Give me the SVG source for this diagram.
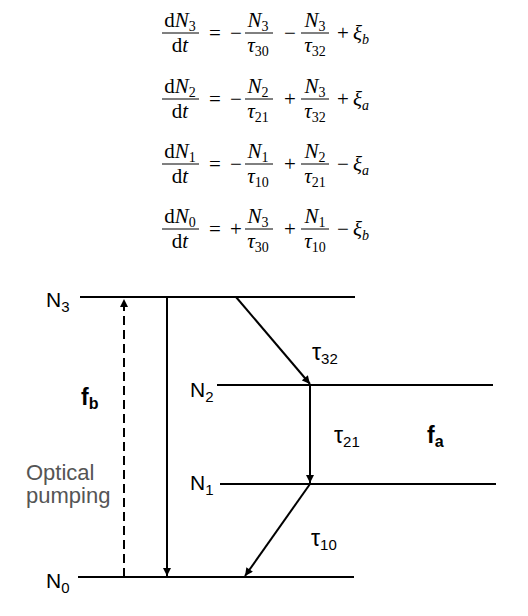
<svg xmlns="http://www.w3.org/2000/svg" width="528" height="616" viewBox="0 0 528 616">
<style>
.m{font-family:"Liberation Serif","DejaVu Serif",serif;font-size:21px;fill:#000}
.mi{font-style:italic}
.s{font-size:14px}
.bar{stroke:#000;stroke-width:1}
.lvl{stroke:#000;stroke-width:2.2;fill:none}
.arr{stroke:#000;stroke-width:2;fill:none}
.lb{font-family:"Liberation Sans",Arial,sans-serif;font-size:21px;fill:#000}
.ls{font-size:15px}
.tl{font-size:23px}
.fb{font-weight:bold;font-size:23px}
.op{font-family:"Liberation Sans",Arial,sans-serif;font-size:22px;fill:#555}
</style>
<defs>
<marker id="ah" viewBox="0 0 10 10" refX="10" refY="5" markerWidth="9" markerHeight="8" markerUnits="userSpaceOnUse" orient="auto">
<path d="M0,0 L10,5 L0,10 z" fill="#000"/>
</marker>
</defs>
<g id="equations">
<g id="eq1" transform="translate(0,0)">
<line class="bar" x1="162" y1="33" x2="199" y2="33"/>
<text class="m" x="180" y="27" text-anchor="middle">d<tspan class="mi">N</tspan><tspan class="s" dy="4">3</tspan></text>
<text class="m" x="180" y="52" text-anchor="middle">d<tspan class="mi">t</tspan></text>
<text class="m" x="215" y="40" text-anchor="middle">=</text>
<text class="m" x="236" y="40" text-anchor="middle">−</text>
<line class="bar" x1="245" y1="33" x2="273" y2="33"/>
<text class="m" x="258" y="27" text-anchor="middle"><tspan class="mi">N</tspan><tspan class="s" dy="4">3</tspan></text>
<text class="m" x="258" y="52" text-anchor="middle"><tspan class="mi">τ</tspan><tspan class="s" dy="4">30</tspan></text>
<text class="m" x="290" y="40" text-anchor="middle">−</text>
<line class="bar" x1="301" y1="33" x2="329" y2="33"/>
<text class="m" x="315" y="27" text-anchor="middle"><tspan class="mi">N</tspan><tspan class="s" dy="4">3</tspan></text>
<text class="m" x="315" y="52" text-anchor="middle"><tspan class="mi">τ</tspan><tspan class="s" dy="4">32</tspan></text>
<text class="m" x="343" y="40" text-anchor="middle">+</text>
<text class="m" x="353" y="40"><tspan class="mi">ξ</tspan><tspan class="s mi" dy="4">b</tspan></text>
</g>
<g id="eq2" transform="translate(0,66)">
<line class="bar" x1="162" y1="33" x2="199" y2="33"/>
<text class="m" x="180" y="27" text-anchor="middle">d<tspan class="mi">N</tspan><tspan class="s" dy="4">2</tspan></text>
<text class="m" x="180" y="52" text-anchor="middle">d<tspan class="mi">t</tspan></text>
<text class="m" x="215" y="40" text-anchor="middle">=</text>
<text class="m" x="236" y="40" text-anchor="middle">−</text>
<line class="bar" x1="245" y1="33" x2="273" y2="33"/>
<text class="m" x="258" y="27" text-anchor="middle"><tspan class="mi">N</tspan><tspan class="s" dy="4">2</tspan></text>
<text class="m" x="258" y="52" text-anchor="middle"><tspan class="mi">τ</tspan><tspan class="s" dy="4">21</tspan></text>
<text class="m" x="290" y="40" text-anchor="middle">+</text>
<line class="bar" x1="301" y1="33" x2="329" y2="33"/>
<text class="m" x="315" y="27" text-anchor="middle"><tspan class="mi">N</tspan><tspan class="s" dy="4">3</tspan></text>
<text class="m" x="315" y="52" text-anchor="middle"><tspan class="mi">τ</tspan><tspan class="s" dy="4">32</tspan></text>
<text class="m" x="343" y="40" text-anchor="middle">+</text>
<text class="m" x="353" y="40"><tspan class="mi">ξ</tspan><tspan class="s mi" dy="4">a</tspan></text>
</g>
<g id="eq3" transform="translate(0,131)">
<line class="bar" x1="162" y1="33" x2="199" y2="33"/>
<text class="m" x="180" y="27" text-anchor="middle">d<tspan class="mi">N</tspan><tspan class="s" dy="4">1</tspan></text>
<text class="m" x="180" y="52" text-anchor="middle">d<tspan class="mi">t</tspan></text>
<text class="m" x="215" y="40" text-anchor="middle">=</text>
<text class="m" x="236" y="40" text-anchor="middle">−</text>
<line class="bar" x1="245" y1="33" x2="273" y2="33"/>
<text class="m" x="258" y="27" text-anchor="middle"><tspan class="mi">N</tspan><tspan class="s" dy="4">1</tspan></text>
<text class="m" x="258" y="52" text-anchor="middle"><tspan class="mi">τ</tspan><tspan class="s" dy="4">10</tspan></text>
<text class="m" x="290" y="40" text-anchor="middle">+</text>
<line class="bar" x1="301" y1="33" x2="329" y2="33"/>
<text class="m" x="315" y="27" text-anchor="middle"><tspan class="mi">N</tspan><tspan class="s" dy="4">2</tspan></text>
<text class="m" x="315" y="52" text-anchor="middle"><tspan class="mi">τ</tspan><tspan class="s" dy="4">21</tspan></text>
<text class="m" x="343" y="40" text-anchor="middle">−</text>
<text class="m" x="353" y="40"><tspan class="mi">ξ</tspan><tspan class="s mi" dy="4">a</tspan></text>
</g>
<g id="eq4" transform="translate(0,196)">
<line class="bar" x1="162" y1="33" x2="199" y2="33"/>
<text class="m" x="180" y="27" text-anchor="middle">d<tspan class="mi">N</tspan><tspan class="s" dy="4">0</tspan></text>
<text class="m" x="180" y="52" text-anchor="middle">d<tspan class="mi">t</tspan></text>
<text class="m" x="215" y="40" text-anchor="middle">=</text>
<text class="m" x="236" y="40" text-anchor="middle">+</text>
<line class="bar" x1="245" y1="33" x2="273" y2="33"/>
<text class="m" x="258" y="27" text-anchor="middle"><tspan class="mi">N</tspan><tspan class="s" dy="4">3</tspan></text>
<text class="m" x="258" y="52" text-anchor="middle"><tspan class="mi">τ</tspan><tspan class="s" dy="4">30</tspan></text>
<text class="m" x="290" y="40" text-anchor="middle">+</text>
<line class="bar" x1="301" y1="33" x2="329" y2="33"/>
<text class="m" x="315" y="27" text-anchor="middle"><tspan class="mi">N</tspan><tspan class="s" dy="4">1</tspan></text>
<text class="m" x="315" y="52" text-anchor="middle"><tspan class="mi">τ</tspan><tspan class="s" dy="4">10</tspan></text>
<text class="m" x="343" y="40" text-anchor="middle">−</text>
<text class="m" x="353" y="40"><tspan class="mi">ξ</tspan><tspan class="s mi" dy="4">b</tspan></text>
</g>
</g>
<g id="N3"><line class="lvl" x1="80" y1="297" x2="355" y2="297"/><text class="lb" x="46" y="307">N<tspan class="ls" dy="5">3</tspan></text></g>
<g id="N2"><line class="lvl" x1="217" y1="385" x2="493" y2="385"/><text class="lb" x="190" y="397">N<tspan class="ls" dy="5">2</tspan></text></g>
<g id="N1"><line class="lvl" x1="220" y1="484" x2="496" y2="484"/><text class="lb" x="190" y="490">N<tspan class="ls" dy="5">1</tspan></text></g>
<g id="N0"><line class="lvl" x1="78" y1="577" x2="354" y2="577"/><text class="lb" x="46" y="588">N<tspan class="ls" dy="5">0</tspan></text></g>
<g id="connectors">
<line class="arr" x1="124" y1="577" x2="124" y2="299" stroke-dasharray="9,5" stroke-width="2.4" marker-end="url(#ah)"/>
<line class="arr" x1="167" y1="297" x2="167" y2="576" marker-end="url(#ah)"/>
<line class="arr" x1="236" y1="297" x2="310" y2="384" marker-end="url(#ah)"/>
<line class="arr" x1="310" y1="385" x2="310" y2="483" marker-end="url(#ah)"/>
<line class="arr" x1="310" y1="484" x2="245" y2="576" marker-end="url(#ah)"/>
</g>
<g id="labels">
<text class="lb fb" x="81" y="405">f<tspan font-size="16" dy="4">b</tspan></text>
<text class="lb fb" x="427" y="443">f<tspan font-size="16" dy="4">a</tspan></text>
<text class="lb tl" x="312" y="360">τ<tspan class="ls" font-size="16" dy="4">32</tspan></text>
<text class="lb tl" x="334" y="443">τ<tspan class="ls" font-size="16" dy="4">21</tspan></text>
<text class="lb tl" x="311" y="546">τ<tspan class="ls" font-size="16" dy="4">10</tspan></text>
<text class="op" x="26" y="480">Optical</text>
<text class="op" x="26" y="503">pumping</text>
</g>
</svg>
